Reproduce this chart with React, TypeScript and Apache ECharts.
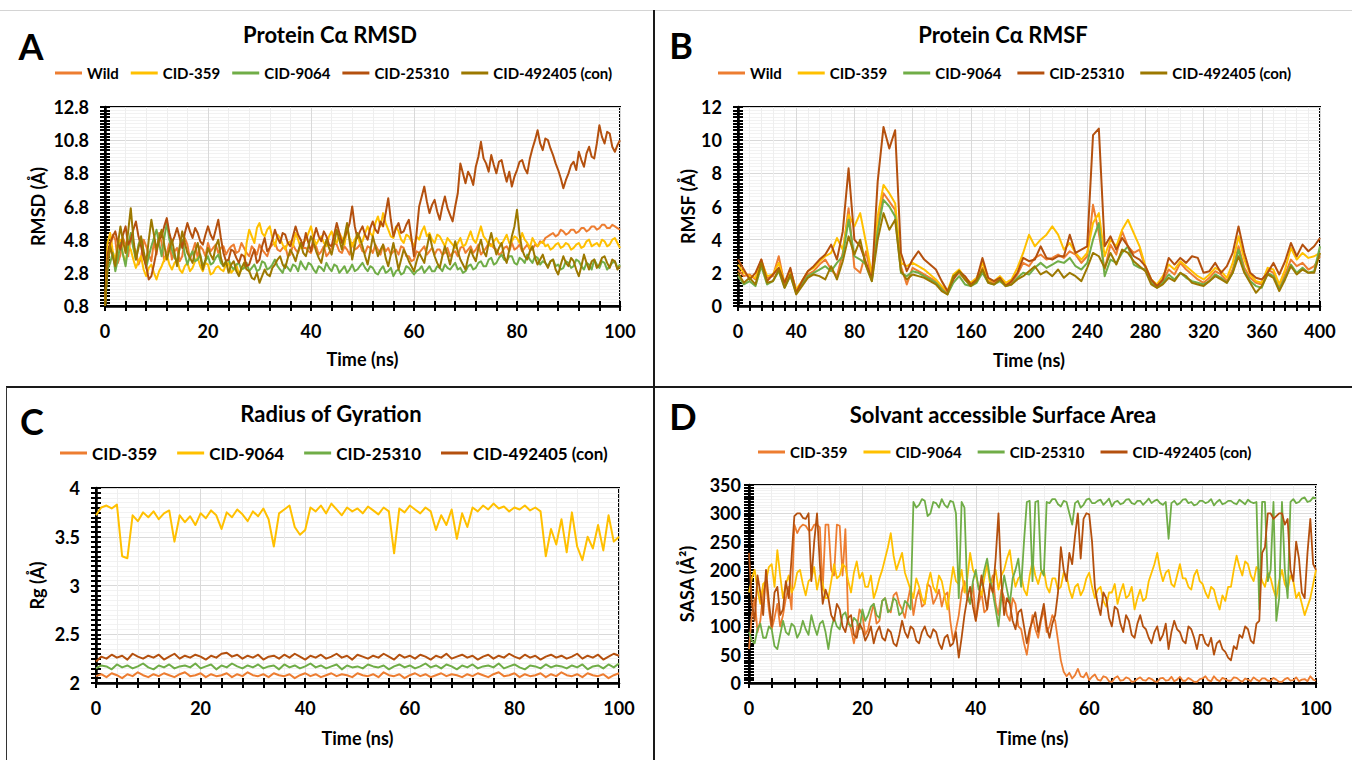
import React, { useEffect, useRef } from "react";
import * as echarts from "echarts";

const FONT = "Lato, 'Open Sans', 'DejaVu Sans', sans-serif";

// ---------- colours ----------
const C_ORANGE = "#ED7D31";
const C_GOLD = "#FFC000";
const C_GREEN = "#70AD47";
const C_BROWN = "#B4500E";
const C_OLIVE = "#9C7800";

// ---------- Panel A : Protein Cα RMSD (Å), time 0..100 ns, 0.5 ns step ----------
const rmsdWild = [
  0.8, 3.6, 4.2, 5.1, 4.8, 3.4, 3.9, 4.9, 4.5, 3.8,
  5.0, 4.4, 4.1, 3.3, 3.7, 4.8, 4.4, 3.9, 3.5, 4.7,
  3.9, 5.2, 4.6, 3.5, 4.0, 4.6, 3.6, 4.1, 4.3, 3.5,
  3.8, 4.9, 4.5, 3.6, 4.1, 4.6, 3.7, 4.4, 4.2, 3.8,
  4.6, 4.1, 4.3, 4.5, 4.0, 4.3, 4.4, 3.9, 4.2, 4.4,
  4.5, 4.0, 4.1, 4.6, 4.3, 4.0, 3.8, 4.4, 4.2, 3.9,
  4.5, 4.2, 4.0, 3.8, 4.3, 4.5, 4.6, 4.2, 4.1, 4.3,
  4.4, 3.8, 3.9, 4.5, 4.2, 4.0, 4.5, 4.3, 4.3, 4.1,
  4.0, 4.5, 4.4, 3.9, 4.1, 4.4, 3.8, 4.0, 4.3, 4.6,
  4.5, 4.1, 4.0, 4.4, 4.2, 3.9, 4.6, 4.2, 4.3, 4.5,
  4.1, 4.0, 4.4, 4.3, 4.0, 4.5, 4.2, 3.9, 4.5, 4.1,
  4.3, 3.9, 4.1, 4.2, 3.9, 4.4, 4.3, 3.8, 3.8, 3.5,
  3.6, 4.1, 4.0, 4.2, 4.4, 3.9, 4.1, 4.3, 3.9, 4.2,
  4.2, 3.9, 4.0, 4.3, 3.8, 4.0, 4.1, 3.8, 4.3, 4.4,
  4.0, 4.2, 4.4, 4.0, 4.2, 4.5, 3.9, 4.1, 4.3, 4.6,
  4.5, 4.3, 4.2, 3.9, 4.0, 4.3, 4.4, 4.1, 4.6, 4.2,
  4.3, 4.5, 4.1, 4.3, 4.5, 4.2, 4.2, 4.5, 4.4, 4.7,
  4.6, 4.9, 5.0, 5.1, 5.2, 5.0, 5.1, 5.4, 5.3, 5.1,
  5.2, 5.4, 5.4, 5.2, 5.3, 5.5, 5.5, 5.3, 5.4, 5.6,
  5.6, 5.4, 5.5, 5.7, 5.7, 5.5, 5.5, 5.7, 5.6, 5.5,
  5.4];
const rmsd359 = [
  0.8, 4.6, 5.2, 4.1, 3.6, 4.4, 4.8, 3.9, 3.4, 4.5,
  4.2, 3.6, 3.1, 3.5, 3.8, 3.0, 2.6, 3.1, 3.3, 2.8,
  2.4, 2.9, 3.2, 3.6, 3.9, 3.3, 3.0, 3.4, 3.6, 3.0,
  2.8, 3.2, 3.4, 2.9, 3.1, 3.5, 3.7, 3.2, 2.9, 3.4,
  3.3, 2.7, 2.8, 3.1, 3.2, 3.0, 2.9, 3.3, 3.4, 2.8,
  3.0, 3.3, 2.7, 3.0, 3.1, 4.6, 5.4, 5.0, 4.6, 5.5,
  5.8, 5.2, 5.0, 5.4, 5.6, 4.9, 4.4, 5.1, 4.9, 4.5,
  4.2, 4.6, 4.7, 4.4, 5.2, 4.8, 4.3, 4.6, 4.8, 5.2,
  5.6, 4.9, 4.5, 4.8, 5.0, 4.6, 4.4, 5.0, 5.3, 4.8,
  4.6, 5.2, 4.9, 4.5, 5.5, 4.9, 4.4, 4.8, 5.1, 4.6,
  4.7, 5.2, 5.6, 5.2, 5.0, 5.8, 6.2, 5.6, 6.4, 5.8,
  5.4, 5.0, 4.9, 5.6, 5.3, 4.8, 4.6, 5.1, 5.0, 4.7,
  4.4, 5.0, 4.8, 5.3, 5.6, 5.0, 5.2, 4.8, 4.6, 5.1,
  5.0, 4.7, 4.4, 4.9, 4.7, 4.5, 4.3, 4.6, 4.9, 4.4,
  4.5, 4.9, 5.3, 4.8, 4.6, 5.1, 5.6, 5.0, 4.8, 4.5,
  4.4, 4.7, 4.9, 4.6, 4.5, 4.8, 5.1, 4.6, 4.7, 5.0,
  4.9, 4.6, 5.2, 4.8, 4.6, 4.3, 4.9, 4.6, 4.4, 4.6,
  4.7, 4.4, 4.5, 4.2, 4.3, 4.5, 4.6, 4.3, 4.4, 4.6,
  4.5, 4.2, 4.3, 4.5, 4.6, 4.3, 4.4, 4.7, 4.8, 4.4,
  4.5, 4.6, 4.4, 4.8, 4.7, 4.4, 4.5, 4.8, 4.9, 4.6,
  4.3];
const rmsd9064 = [
  0.8, 3.0, 3.4, 4.0, 2.9, 3.6, 4.6, 3.9, 3.2, 4.4,
  5.2, 4.3, 3.6, 4.5, 4.9, 4.0, 3.1, 3.8, 4.4, 4.9,
  5.4, 4.6, 3.8, 4.9, 5.8, 4.8, 4.2, 3.7, 3.5, 4.3,
  4.8, 3.9, 3.3, 3.8, 4.1, 3.5, 3.6, 3.9, 3.2, 3.5,
  3.8, 3.3, 3.4, 3.7, 3.9, 3.4, 3.2, 3.5, 3.6, 3.2,
  3.0, 3.3, 3.4, 3.0, 3.1, 3.4, 2.9, 3.1, 3.3, 2.9,
  3.0, 3.5, 3.4, 3.0, 3.1, 3.3, 3.6, 3.2, 3.0, 2.8,
  3.3, 3.1, 2.9, 3.3, 3.2, 2.9, 3.5, 3.2, 3.0, 3.4,
  3.3, 3.0, 2.8, 3.2, 3.1, 2.9, 3.4, 3.1, 2.9, 3.3,
  3.2, 2.8, 3.0, 3.2, 2.8, 3.0, 3.3, 2.9, 3.0, 3.2,
  3.4, 3.1, 2.9, 3.2, 3.1, 2.8, 2.7, 3.0, 3.2, 2.8,
  2.9, 3.1, 2.6, 2.9, 3.0, 2.7, 2.8, 3.2, 3.1, 2.9,
  2.7, 2.9, 3.0, 3.2, 2.8, 3.0, 3.2, 2.9, 2.9, 3.2,
  3.1, 2.9, 3.3, 3.1, 3.0, 3.2, 3.4, 3.0, 3.1, 2.8,
  2.9, 3.2, 3.3, 3.0, 3.1, 3.4, 3.5, 3.2, 3.2, 3.6,
  3.7, 3.3, 3.4, 3.7, 3.9, 3.6, 3.5, 3.8, 3.8, 3.4,
  3.3, 3.7, 3.6, 3.4, 3.9, 3.6, 3.4, 3.8, 3.7, 3.3,
  3.5, 3.4, 3.2, 3.5, 3.6, 3.2, 3.3, 3.0, 3.1, 3.5,
  3.4, 3.1, 3.2, 3.6, 3.5, 3.2, 3.0, 3.4, 3.3, 3.0,
  3.6, 3.3, 3.1, 3.5, 3.4, 3.0, 3.2, 3.4, 3.5, 3.1,
  3.3];
const rmsd25310 = [
  0.8, 3.9, 4.6, 5.0, 5.3, 4.6, 4.2, 5.1, 5.6, 4.5,
  4.8, 5.4, 5.9, 5.0, 4.4, 3.7, 3.2, 2.4, 2.6, 3.3,
  4.1, 4.8, 5.0, 5.6, 6.1, 5.2, 4.6, 5.0, 5.5, 4.9,
  4.3, 5.2, 5.8, 5.3, 4.9, 5.5, 5.2, 4.7, 4.5, 5.1,
  5.6, 5.1, 4.8, 5.4, 6.0, 4.9, 4.0, 3.5, 3.6, 4.2,
  4.1, 3.7, 3.4, 3.9, 3.8, 3.2, 3.3, 3.8, 4.2, 3.4,
  3.6, 4.4, 4.9, 4.1, 4.3, 4.8, 5.4, 4.9, 4.6, 5.2,
  5.1, 4.6, 4.4, 5.0, 5.6, 5.1, 4.8, 4.4, 5.2, 4.6,
  4.1, 4.9, 5.5, 5.0, 4.7, 5.3, 5.0, 4.5, 4.4, 5.1,
  5.8, 5.2, 4.6, 4.9, 5.3, 5.8, 6.8, 5.6, 4.9, 5.3,
  5.6, 5.1, 4.8, 5.5, 5.9, 5.4, 5.2, 5.9, 5.6, 6.4,
  7.3, 6.0, 5.0, 5.5, 5.8, 5.2, 5.3, 5.7, 6.0, 4.9,
  3.8, 5.2, 6.8, 7.4, 8.0, 7.1, 6.4, 6.9, 7.2, 6.5,
  6.0, 6.8, 7.4, 6.7, 6.3, 5.9, 6.8, 7.6, 9.4, 8.8,
  8.2, 8.9, 8.6, 8.1, 9.2, 9.8, 10.7, 9.7, 9.4, 8.9,
  9.9, 9.3, 8.8, 9.5, 9.6, 8.9, 8.3, 8.9, 8.0, 8.6,
  9.0, 9.5, 9.6, 9.1, 8.8, 9.7, 10.3, 10.8, 11.4, 10.6,
  10.2, 10.9, 10.8, 10.3, 9.9, 9.4, 9.0, 8.5, 7.9, 8.4,
  8.8, 9.3, 9.5, 9.0, 10.1, 9.6, 9.2, 10.0, 10.4, 9.8,
  9.7, 10.6, 11.7, 11.0, 10.6, 11.3, 11.2, 10.4, 10.1, 10.5,
  10.8];
const rmsd492405 = [
  0.8, 3.2, 4.4, 3.8, 3.2, 4.5, 5.6, 4.7, 4.0, 5.3,
  6.7, 4.9, 3.6, 4.3, 5.0, 4.1, 3.4, 4.8, 6.0, 5.1,
  4.2, 4.9, 5.4, 4.5, 3.6, 4.2, 4.8, 4.0, 3.2, 4.4,
  5.3, 4.6, 4.0, 3.7, 3.4, 4.1, 4.6, 3.8, 3.0, 3.6,
  4.3, 3.9, 3.6, 4.4, 4.8, 3.7, 3.2, 3.5, 2.8, 3.3,
  3.5, 2.9, 2.6, 3.1, 3.4, 3.0, 2.9, 2.5, 2.4, 2.8,
  2.2, 2.6, 3.0, 2.7, 2.6, 3.1, 3.3, 3.6, 3.8, 3.3,
  3.1, 3.7, 4.2, 3.9, 3.5, 4.1, 4.6, 4.0, 3.8, 4.4,
  5.0, 4.6, 4.1, 3.7, 3.4, 4.2, 4.8, 4.3, 3.9, 4.6,
  5.4, 4.8, 4.2, 5.0, 5.8, 4.7, 3.6, 4.4, 5.2, 4.9,
  4.4, 3.8, 3.3, 4.1, 5.0, 4.4, 3.8, 4.2, 4.5, 3.7,
  3.2, 3.9, 4.6, 3.8, 3.0, 3.6, 4.2, 3.9, 3.5, 3.2,
  2.9, 3.5, 4.0, 3.7, 3.4, 4.3, 5.1, 4.4, 3.8, 3.4,
  3.1, 3.8, 4.4, 3.9, 3.3, 4.0, 4.7, 4.1, 3.6, 3.3,
  3.0, 3.7, 4.2, 3.8, 3.5, 4.3, 4.8, 4.1, 3.8, 4.6,
  5.2, 4.5, 3.9, 4.3, 4.6, 3.8, 3.4, 4.2, 5.0, 5.6,
  6.6, 5.1, 4.2, 3.8, 3.6, 4.1, 4.4, 3.7, 3.3, 3.6,
  3.9, 3.4, 3.1, 3.5, 3.6, 3.0, 2.7, 3.3, 3.8, 3.4,
  3.2, 3.7, 3.5, 3.0, 2.6, 3.2, 3.9, 3.4, 3.0, 3.5,
  3.6, 3.1, 3.3, 3.7, 3.8, 3.4, 3.1, 3.6, 3.5, 3.0,
  3.2];

// ---------- Panel B : Protein Cα RMSF (Å), 0..400, step 4 ----------
const rmsfWild = [
  2.2, 1.8, 1.9, 1.6, 2.8, 1.7, 1.8, 3.0, 1.3, 2.2,
  0.9, 1.4, 1.9, 2.1, 2.5, 2.8, 2.2, 1.8, 3.2, 5.9,
  2.3, 2.0, 3.3, 1.6, 4.8, 6.8, 6.3, 5.8, 2.4, 1.3,
  2.3, 2.1, 1.9, 1.7, 1.5, 1.1, 0.8, 1.7, 2.0, 1.6,
  1.3, 1.5, 2.3, 1.5, 1.4, 1.6, 1.3, 1.4, 1.9, 2.6,
  2.4, 2.9, 3.1, 2.8, 2.9, 3.1, 2.9, 3.3, 3.1, 2.6,
  3.0, 6.1, 4.4, 2.2, 3.7, 3.1, 4.5, 3.6, 3.2, 3.4,
  2.3, 1.5, 1.2, 1.5, 2.2, 1.9, 2.6, 2.2, 1.9, 1.6,
  1.4, 1.7, 2.1, 1.9, 1.5, 2.2, 3.6, 2.3, 1.7, 1.4,
  1.3, 2.2, 2.0, 1.1, 1.9, 2.8, 2.4, 2.6, 2.2, 2.4,
  3.0];
const rmsf359 = [
  2.5, 2.0, 1.8, 1.7, 2.7, 1.8, 1.9, 2.6, 1.4, 2.1,
  1.0, 1.5, 2.1, 2.3, 2.7, 3.0, 3.2, 4.1, 3.4, 5.5,
  4.8, 5.6, 3.8, 1.9, 5.4, 7.3, 6.8, 6.2, 2.6, 2.4,
  2.6, 2.4, 2.2, 1.9, 1.6, 1.2, 0.9, 1.9, 2.2, 1.7,
  1.4, 1.7, 2.6, 1.6, 1.5, 1.8, 1.4, 1.6, 2.3, 3.2,
  4.3, 3.6, 4.0, 4.3, 4.8, 4.3, 3.4, 3.8, 3.2, 2.8,
  3.2, 5.0, 5.6, 3.0, 4.0, 3.6, 4.6, 5.2, 4.4, 3.6,
  2.4, 1.6, 1.3, 1.8, 2.5, 2.2, 2.7, 2.4, 2.1, 1.8,
  1.6, 1.9, 2.3, 2.1, 1.7, 2.6, 4.2, 2.8, 1.9, 1.5,
  1.4, 2.3, 2.2, 1.3, 2.2, 3.5, 2.8, 3.2, 2.9, 3.0,
  3.2];
const rmsf9064 = [
  1.8, 1.3, 1.5, 1.2, 2.4, 1.3, 1.5, 2.1, 1.1, 1.8,
  0.8, 1.3, 1.8, 2.0, 2.2, 2.4, 2.1, 2.6, 3.0, 5.2,
  3.0, 2.8, 2.5, 1.5, 4.5, 6.4, 6.0, 5.4, 2.0, 1.8,
  2.1, 2.0, 1.8, 1.6, 1.4, 1.0, 0.7, 1.4, 1.8, 1.3,
  1.2, 1.4, 2.0, 1.4, 1.3, 1.5, 1.2, 1.3, 1.7, 2.0,
  1.9, 2.3, 2.6, 2.3, 2.5, 2.7, 2.6, 2.9, 2.4, 2.2,
  2.6, 4.0, 5.0, 1.8, 2.8, 2.6, 3.2, 3.6, 2.5, 2.3,
  2.2, 1.4, 1.1, 1.4, 1.9, 1.6, 2.0, 1.7, 1.5, 1.4,
  1.3, 1.5, 1.9, 1.7, 1.4, 2.0, 3.4, 2.1, 1.5, 1.2,
  1.1, 2.0, 1.8, 1.0, 1.7, 2.5, 2.0, 2.3, 2.0, 2.1,
  3.6];
const rmsf25310 = [
  2.8, 2.2, 1.6, 2.0, 2.8, 1.5, 1.9, 2.3, 1.4, 2.3,
  0.8, 1.5, 2.1, 2.4, 2.8, 3.1, 3.7, 2.8, 4.5, 8.3,
  4.0, 3.6, 2.6, 1.6, 7.5, 10.8, 9.5, 10.6, 3.2, 2.1,
  2.8, 3.3, 2.8, 2.5, 2.2, 1.5, 0.9, 1.6, 2.1, 1.8,
  1.3, 1.6, 2.9, 1.7, 1.5, 1.7, 1.2, 1.5, 2.0, 2.9,
  2.7, 2.8, 3.6, 2.9, 2.8, 3.0, 3.0, 4.3, 3.2, 3.4,
  3.6, 10.3, 10.7, 3.6, 4.2, 3.4, 4.1, 3.6, 3.0, 2.8,
  2.4, 1.6, 1.2, 1.6, 2.9, 2.5, 2.9, 2.6, 3.0, 2.9,
  2.0, 2.1, 2.6, 2.0, 2.4, 3.2, 4.8, 3.2, 2.0, 1.7,
  1.6, 2.0, 2.6, 1.9, 2.7, 3.8, 3.0, 3.7, 3.3, 3.6,
  4.1];
const rmsf492405 = [
  2.0, 1.4, 1.7, 1.3, 2.6, 1.4, 1.5, 2.2, 1.1, 1.9,
  0.7, 1.2, 1.7, 1.9, 1.8, 1.6, 2.4, 1.6, 2.7, 4.2,
  3.1, 4.0, 2.4, 1.5, 4.0, 5.6, 4.6, 5.2, 2.1, 1.6,
  1.9, 1.8, 1.7, 1.5, 1.3, 0.9, 0.7, 1.8, 2.1, 1.6,
  1.2, 1.5, 2.2, 1.4, 1.3, 1.6, 1.2, 1.3, 1.6, 1.8,
  2.1, 2.4, 1.9, 2.1, 1.8, 2.2, 1.7, 2.0, 1.8, 1.5,
  2.3, 3.2, 3.0, 2.3, 3.2, 2.5, 3.4, 3.2, 2.7, 2.4,
  2.1, 1.3, 1.1, 1.3, 1.7, 1.5, 2.0, 1.8, 1.4, 1.3,
  1.2, 1.5, 1.8, 1.6, 1.4, 2.0, 3.0, 2.0, 1.4, 0.8,
  1.2, 1.9, 1.7, 0.9, 1.6, 2.4, 1.9, 2.2, 2.0, 2.0,
  3.2];

// ---------- Panel C : Radius of Gyration (Å), 0..100 ns, 1 ns step ----------
const rg359 = [2.07,
  2.09, 2.06, 2.10, 2.08, 2.05, 2.09, 2.07, 2.11, 2.08, 2.06,
  2.09, 2.07, 2.10, 2.08, 2.06, 2.09, 2.11, 2.07, 2.08, 2.10,
  2.06, 2.09, 2.07, 2.08, 2.10, 2.06, 2.09, 2.07, 2.11, 2.08,
  2.07, 2.09, 2.06, 2.10, 2.08, 2.07, 2.09, 2.05, 2.08, 2.10,
  2.07, 2.09, 2.06, 2.08, 2.10, 2.07, 2.09, 2.08, 2.06, 2.10,
  2.08, 2.07, 2.09, 2.06, 2.11, 2.08, 2.07, 2.09, 2.05, 2.08,
  2.10, 2.07, 2.09, 2.06, 2.08, 2.10, 2.07, 2.09, 2.08, 2.06,
  2.09, 2.07, 2.10, 2.08, 2.06, 2.09, 2.11, 2.07, 2.08, 2.10,
  2.06, 2.09, 2.07, 2.08, 2.10, 2.06, 2.09, 2.07, 2.11, 2.08,
  2.07, 2.09, 2.06, 2.10, 2.08, 2.07, 2.09, 2.05, 2.08, 2.10];
const rg9064 = [3.72,
  3.80, 3.82, 3.79, 3.83, 3.30, 3.28, 3.72, 3.66, 3.75, 3.70,
  3.76, 3.68, 3.74, 3.77, 3.45, 3.72, 3.65, 3.71, 3.62, 3.74,
  3.69, 3.77, 3.72, 3.58, 3.75, 3.70, 3.78, 3.73, 3.66, 3.76,
  3.71, 3.79, 3.68, 3.40, 3.74, 3.78, 3.82, 3.60, 3.52, 3.57,
  3.80, 3.76, 3.82, 3.74, 3.84, 3.78, 3.72, 3.80, 3.76, 3.79,
  3.74, 3.81, 3.77, 3.73, 3.80, 3.76, 3.33, 3.79, 3.75, 3.82,
  3.78, 3.74, 3.80, 3.76, 3.57, 3.72, 3.62, 3.78, 3.48, 3.74,
  3.60, 3.80, 3.76, 3.82, 3.78, 3.84, 3.79, 3.81, 3.76, 3.80,
  3.78, 3.82, 3.77, 3.80, 3.76, 3.30, 3.58, 3.42, 3.68, 3.34,
  3.75, 3.40, 3.26, 3.50, 3.38, 3.62, 3.36, 3.72, 3.45, 3.50];
const rg25310 = [2.15,
  2.18, 2.17, 2.14, 2.19, 2.16, 2.18, 2.15, 2.17, 2.20, 2.16,
  2.14, 2.18, 2.16, 2.19, 2.15, 2.17, 2.18, 2.16, 2.20, 2.15,
  2.17, 2.19, 2.14, 2.18, 2.16, 2.20, 2.17, 2.15, 2.18, 2.16,
  2.19, 2.15, 2.17, 2.18, 2.14, 2.19, 2.16, 2.18, 2.15, 2.17,
  2.20, 2.16, 2.18, 2.15, 2.17, 2.19, 2.14, 2.18, 2.16, 2.17,
  2.15, 2.19, 2.17, 2.16, 2.18, 2.14, 2.17, 2.19, 2.16, 2.18,
  2.15, 2.17, 2.20, 2.16, 2.18, 2.15, 2.19, 2.17, 2.14, 2.18,
  2.16, 2.19, 2.15, 2.17, 2.18, 2.16, 2.20, 2.15, 2.17, 2.19,
  2.16, 2.14, 2.18, 2.17, 2.15, 2.19, 2.16, 2.18, 2.17, 2.15,
  2.18, 2.16, 2.19, 2.14, 2.17, 2.18, 2.15, 2.19, 2.16, 2.20];
const rg492405 = [2.22,
  2.27, 2.25, 2.29, 2.26, 2.28, 2.24, 2.30, 2.27, 2.25, 2.28,
  2.26, 2.29, 2.24, 2.27, 2.30, 2.25, 2.28, 2.26, 2.29, 2.27,
  2.24, 2.28, 2.26, 2.30, 2.31, 2.27, 2.29, 2.25, 2.28, 2.26,
  2.29, 2.24, 2.27, 2.28, 2.25, 2.29, 2.26, 2.30, 2.27, 2.24,
  2.28, 2.26, 2.29, 2.25, 2.27, 2.30, 2.26, 2.28, 2.24, 2.29,
  2.27, 2.25, 2.28, 2.26, 2.30, 2.27, 2.24, 2.29, 2.26, 2.28,
  2.25, 2.29, 2.27, 2.24, 2.28, 2.26, 2.30, 2.25, 2.27, 2.29,
  2.26, 2.28, 2.24, 2.27, 2.29, 2.25, 2.28, 2.26, 2.30, 2.27,
  2.25, 2.29, 2.26, 2.28, 2.24, 2.27, 2.29, 2.26, 2.28, 2.25,
  2.27, 2.30, 2.25, 2.28, 2.26, 2.29, 2.24, 2.27, 2.30, 2.28];

// ---------- Panel D : SASA (Å²), 0..100 ns, 0.5 ns step ----------
const sasa359 = [
  60, 120, 150, 90, 110, 160, 180, 130, 95, 115,
  140, 100, 120, 150, 170, 130, 280, 265, 275, 280,
  278, 270, 270, 280, 280, 275, 165, 280, 280, 200,
  190, 280, 278, 190, 272, 110, 95, 70, 95, 130,
  120, 85, 95, 120, 140, 105, 110, 145, 150, 130,
  125, 155, 160, 140, 130, 115, 145, 170, 120, 150,
  165, 135, 140, 175, 170, 140, 150, 165, 135, 155,
  160, 110, 75, 95, 120, 160, 180, 150, 140, 175,
  110, 140, 160, 125, 130, 170, 190, 140, 120, 165,
  150, 120, 110, 150, 140, 100, 95, 70, 50, 85,
  120, 95, 80, 110, 130, 90, 100, 120, 110, 75,
  40, 20, 12, 18, 8, 14, 25, 12, 10, 18,
  5, 11, 15, 6, 4, 12, 10, 3, 2, 9,
  12, 4, 5, 10, 8, 2, 3, 7, 10, 5,
  4, 9, 7, 3, 2, 8, 9, 4, 5, 11,
  3, 6, 11, 4, 4, 9, 6, 2, 2, 7,
  8, 12, 5, 3, 12, 6, 3, 9, 7, 4,
  4, 10, 9, 5, 2, 8, 6, 3, 10, 6,
  3, 8, 8, 4, 4, 9, 6, 2, 2, 7,
  9, 4, 5, 10, 3, 6, 7, 3, 12, 6,
  4];
const sasa9064 = [
  160, 185, 200, 165, 140, 175, 180, 205, 210, 170,
  235, 190, 150, 175, 190, 160, 170, 195, 200, 175,
  155, 180, 185, 205, 165, 190, 175, 150, 150, 180,
  210, 185, 190, 210, 205, 180, 160, 195, 215, 185,
  195, 170, 170, 190, 150, 165, 185, 200, 220, 240,
  265, 225, 200, 215, 230, 195, 180, 165, 150, 185,
  170, 150, 140, 175, 195, 170, 160, 190, 180, 155,
  130, 170, 205, 180, 175, 200, 160, 185, 230, 200,
  190, 170, 155, 185, 210, 175, 180, 200, 165, 190,
  200, 220, 235, 195, 170, 185, 190, 165, 155, 190,
  215, 190, 175, 195, 200, 170, 160, 185, 185, 165,
  170, 195, 190, 165, 150, 170, 175, 155, 165, 185,
  195, 170, 150, 165, 170, 145, 135, 160, 160, 175,
  140, 160, 175, 150, 155, 170, 130, 150, 165, 145,
  150, 180, 195, 210, 230, 200, 180, 195, 200, 175,
  170, 190, 210, 185, 185, 170, 165, 190, 200, 180,
  175, 160, 150, 170, 165, 145, 130, 155, 145, 170,
  170, 200, 225, 205, 190, 215, 210, 190, 180, 205,
  200, 180, 170, 195, 185, 165, 150, 180, 200, 175,
  165, 190, 180, 150, 160, 140, 120, 135, 150, 175,
  200];
const sasa25310 = [
  90, 75, 70, 95, 105, 80, 80, 100, 95, 65,
  60, 85, 110, 90, 85, 105, 100, 80, 90, 110,
  95, 85, 120, 100, 85, 105, 110, 90, 60, 95,
  115, 100, 95, 120, 125, 105, 100, 115, 110, 95,
  130, 110, 120, 135, 140, 120, 115, 145, 150, 125,
  130, 150, 145, 120, 125, 145, 140, 130, 320, 310,
  315, 325, 322, 295, 300, 320, 318, 310, 325, 315,
  310, 322, 320, 300, 150, 320, 310, 160, 140, 180,
  200, 165, 175, 200, 220, 185, 160, 130, 100, 150,
  190, 165, 140, 185, 200, 220, 170, 250, 320, 322,
  180, 320, 322, 200, 190, 320, 318, 325, 325, 316,
  312, 322, 320, 300, 280, 318, 322, 310, 315, 324,
  326, 318, 318, 322, 324, 315, 320, 326, 312, 320,
  322, 316, 318, 324, 325, 318, 316, 322, 322, 315,
  320, 326, 318, 322, 324, 318, 315, 320, 255, 318,
  322, 315, 318, 324, 325, 318, 320, 314, 316, 322,
  322, 318, 320, 325, 314, 320, 324, 316, 318, 322,
  322, 318, 316, 324, 320, 316, 324, 320, 318, 320,
  130, 320, 320, 180, 200, 320, 110, 150, 320, 200,
  150, 320, 325, 318, 320, 326, 328, 320, 322, 328,
  326];
const sasa492405 = [
  230, 140, 110, 190, 160, 120, 200, 145, 100, 160,
  170, 120, 130, 180, 150, 220, 295, 300, 300, 292,
  290, 300, 180, 250, 300, 210, 140, 165, 150, 120,
  110, 140, 130, 100, 90, 115, 120, 85, 80, 105,
  95, 75, 85, 100, 70, 90, 100, 80, 75, 95,
  90, 70, 65, 85, 110, 90, 80, 100, 95, 75,
  70, 90, 100, 85, 80, 95, 90, 70, 60, 80,
  85, 65, 70, 90, 45, 80, 120, 150, 170, 135,
  110, 150, 190, 160, 130, 175, 160, 220, 300, 180,
  120, 150, 140, 110, 95, 125, 130, 100, 70, 95,
  110, 125, 90, 115, 140, 100, 80, 105, 120, 160,
  240, 200, 180, 230, 210, 260, 300, 220, 290, 300,
  298, 250, 170, 140, 120, 160, 150, 115, 100, 135,
  130, 105, 90, 120, 110, 85, 80, 105, 120, 100,
  95, 80, 70, 90, 100, 75, 85, 105, 60, 90,
  110, 95, 90, 75, 70, 100, 95, 80, 60, 85,
  85, 70, 65, 80, 50, 70, 75, 60, 55, 45,
  40, 65, 60, 85, 80, 100, 95, 75, 70, 105,
  110, 230, 240, 300, 300, 290, 295, 300, 300, 280,
  290, 200, 180, 250, 220, 160, 150, 230, 290, 210,
  200];

type SeriesDef = { name: string; color: string; data: number[] };

type PanelDef = {
  letter: string; letterX: number; letterY: number;
  title: string; titleX: number; titleY: number;
  legendLeft: number; legendCenterY: number; legendGap: number; legendFont: number;
  grid: { left: number; top: number; width: number; height: number };
  xMax: number; xInterval: number; xMinor: number; xNameGap: number;
  yMin: number; yMax: number; yInterval: number; yMinor: number;
  yName: string; yNameGap: number; yLabelMargin: number; lineWidth: number;
  series: SeriesDef[];
};

const panels: PanelDef[] = [
  {
    letter: "A", letterX: 31, letterY: 46,
    title: "Protein Cα RMSD", titleX: 330, titleY: 35,
    legendLeft: 55, legendCenterY: 73, legendGap: 12, legendFont: 15,
    grid: { left: 105, top: 107, width: 515, height: 199 },
    xMax: 100, xInterval: 20, xMinor: 5, xNameGap: 44,
    yMin: 0.8, yMax: 12.8, yInterval: 2, yMinor: 10,
    yName: "RMSD (Å)", yNameGap: 58, yLabelMargin: 16, lineWidth: 2,
    series: [
      { name: "Wild", color: C_ORANGE, data: rmsdWild },
      { name: "CID-359", color: C_GOLD, data: rmsd359 },
      { name: "CID-9064", color: C_GREEN, data: rmsd9064 },
      { name: "CID-25310", color: C_BROWN, data: rmsd25310 },
      { name: "CID-492405 (con)", color: C_OLIVE, data: rmsd492405 },
    ],
  },
  {
    letter: "B", letterX: 681, letterY: 45,
    title: "Protein Cα RMSF", titleX: 1003, titleY: 35,
    legendLeft: 718, legendCenterY: 73, legendGap: 16, legendFont: 15,
    grid: { left: 738, top: 107, width: 582, height: 199 },
    xMax: 400, xInterval: 40, xMinor: 5, xNameGap: 45,
    yMin: 0, yMax: 12, yInterval: 2, yMinor: 10,
    yName: "RMSF (Å)", yNameGap: 41, yLabelMargin: 16, lineWidth: 2,
    series: [
      { name: "Wild", color: C_ORANGE, data: rmsfWild },
      { name: "CID-359", color: C_GOLD, data: rmsf359 },
      { name: "CID-9064", color: C_GREEN, data: rmsf9064 },
      { name: "CID-25310", color: C_BROWN, data: rmsf25310 },
      { name: "CID-492405 (con)", color: C_OLIVE, data: rmsf492405 },
    ],
  },
  {
    letter: "C", letterX: 32, letterY: 421,
    title: "Radius of Gyration", titleX: 331, titleY: 414,
    legendLeft: 60, legendCenterY: 453, legendGap: 20, legendFont: 17,
    grid: { left: 96, top: 488, width: 523, height: 195 },
    xMax: 100, xInterval: 20, xMinor: 5, xNameGap: 46,
    yMin: 2, yMax: 4, yInterval: 0.5, yMinor: 10,
    yName: "Rg (Å)", yNameGap: 50, yLabelMargin: 16, lineWidth: 2,
    series: [
      { name: "CID-359", color: C_ORANGE, data: rg359 },
      { name: "CID-9064", color: C_GOLD, data: rg9064 },
      { name: "CID-25310", color: C_GREEN, data: rg25310 },
      { name: "CID-492405 (con)", color: C_BROWN, data: rg492405 },
    ],
  },
  {
    letter: "D", letterX: 683, letterY: 416,
    title: "Solvant accessible Surface Area", titleX: 1003, titleY: 415,
    legendLeft: 758, legendCenterY: 452, legendGap: 16, legendFont: 15,
    grid: { left: 749, top: 485, width: 567, height: 198 },
    xMax: 100, xInterval: 20, xMinor: 5, xNameGap: 46,
    yMin: 0, yMax: 350, yInterval: 50, yMinor: 10,
    yName: "SASA (Å²)", yNameGap: 53, yLabelMargin: 8, lineWidth: 1.8,
    series: [
      { name: "CID-359", color: C_ORANGE, data: sasa359 },
      { name: "CID-9064", color: C_GOLD, data: sasa9064 },
      { name: "CID-25310", color: C_GREEN, data: sasa25310 },
      { name: "CID-492405 (con)", color: C_BROWN, data: sasa492405 },
    ],
  },
];

function buildOption(p: PanelDef) {
  const txt = { fontFamily: FONT, fontWeight: "bold", color: "#000" };
  const tickLine = { color: "#000", width: 2 };
  const xCommon = { type: "value", gridIndex: 0, min: 0, max: p.xMax, interval: p.xInterval, position: "bottom" };
  const yCommon = { type: "value", gridIndex: 0, min: p.yMin, max: p.yMax, interval: p.yInterval, position: "left" };
  const legendLineH = Math.round(p.legendFont * 1.2);
  return {
    animation: false,
    title: {
      text: p.title, left: p.titleX, top: p.titleY - 12, textAlign: "center", padding: 0,
      textStyle: { ...txt, fontSize: 22 },
    },
    legend: {
      left: p.legendLeft, top: p.legendCenterY - legendLineH / 2, padding: 0,
      icon: "rect", itemWidth: 27, itemHeight: 3,
      itemGap: p.legendGap, selectedMode: false,
      textStyle: { ...txt, fontSize: p.legendFont, lineHeight: legendLineH },
      data: p.series.map((s) => s.name),
    },
    graphic: [
      {
        type: "text", x: p.letterX, y: p.letterY, silent: true,
        style: {
          text: p.letter, fontSize: 36, fontWeight: "bold", fontFamily: FONT, fill: "#000",
          align: "center", verticalAlign: "middle", textAlign: "center", textVerticalAlign: "middle",
        },
      },
    ],
    grid: {
      ...p.grid, show: true, borderColor: "#000", borderWidth: 2, backgroundColor: "transparent",
      containLabel: false,
    },
    xAxis: [
      {
        ...xCommon,
        name: "Time (ns)", nameLocation: "middle", nameGap: p.xNameGap,
        nameTextStyle: { ...txt, fontSize: 18 },
        axisLine: { show: true, onZero: false, lineStyle: { color: "#000", width: 2.5 } },
        axisTick: { show: true, inside: false, length: 5, lineStyle: tickLine },
        minorTick: { show: true, splitNumber: p.xMinor, length: 5, lineStyle: tickLine },
        axisLabel: { ...txt, fontSize: 18, margin: 16 },
        splitLine: { show: true, lineStyle: { color: "#d9d9d9", width: 1 } },
        minorSplitLine: { show: true, lineStyle: { color: "#eeeeee", width: 1 } },
      },
      {
        ...xCommon,
        axisLine: { show: false, onZero: false },
        axisTick: { show: true, inside: true, length: 5, lineStyle: tickLine },
        minorTick: { show: true, splitNumber: p.xMinor, length: 5, lineStyle: tickLine },
        axisLabel: { show: false },
        splitLine: { show: false },
        minorSplitLine: { show: false },
      },
    ],
    yAxis: [
      {
        ...yCommon,
        name: p.yName, nameLocation: "middle", nameGap: p.yNameGap,
        nameTextStyle: { ...txt, fontSize: 18 },
        axisLine: { show: true, onZero: false, lineStyle: { color: "#000", width: 2.5 } },
        axisTick: { show: true, inside: false, length: 5, lineStyle: tickLine },
        minorTick: { show: true, splitNumber: p.yMinor, length: 5, lineStyle: tickLine },
        axisLabel: { ...txt, fontSize: 18, margin: p.yLabelMargin },
        splitLine: { show: true, lineStyle: { color: "#d9d9d9", width: 1 } },
        minorSplitLine: { show: true, lineStyle: { color: "#f2f2f2", width: 1 } },
      },
      {
        ...yCommon,
        axisLine: { show: false, onZero: false },
        axisTick: { show: true, inside: true, length: 5, lineStyle: tickLine },
        minorTick: { show: true, splitNumber: p.yMinor, length: 5, lineStyle: tickLine },
        axisLabel: { show: false },
        splitLine: { show: false },
        minorSplitLine: { show: false },
      },
    ],
    series: p.series.map((s) => {
      const step = p.xMax / (s.data.length - 1);
      return {
        type: "line", name: s.name, xAxisIndex: 0, yAxisIndex: 0,
        data: s.data.map((v, i) => [i * step, v]),
        symbol: "none", showSymbol: false, silent: true,
        color: s.color,
        lineStyle: { width: p.lineWidth, color: s.color, join: "round" },
        itemStyle: { color: s.color },
        emphasis: { disabled: true },
      };
    }),
  };
}

function Panel({ def }: { def: PanelDef }) {
  const ref = useRef<HTMLDivElement>(null);
  useEffect(() => {
    if (!ref.current) return;
    const chart = echarts.init(ref.current, null, { renderer: "svg" });
    chart.setOption(buildOption(def) as any);
    return () => chart.dispose();
  }, [def]);
  return (
    <div
      ref={ref}
      style={{ position: "absolute", left: 0, top: 0, width: 1352, height: 760 }}
    />
  );
}

export default function App() {
  return (
    <div
      style={{
        position: "absolute", left: 0, top: 0, width: 1352, height: 760,
        background: "#fff", overflow: "hidden",
      }}
    >
      {panels.map((p) => (
        <Panel key={p.letter} def={p} />
      ))}
      <div style={{ position: "absolute", left: 0, top: 10, width: 1352, height: 1, background: "#d4d4d4" }} />
      <div style={{ position: "absolute", left: 653, top: 10, width: 2, height: 750, background: "#1a1a1a" }} />
      <div style={{ position: "absolute", left: 6, top: 386, width: 1346, height: 2, background: "#1a1a1a" }} />
      <div style={{ position: "absolute", left: 6, top: 387, width: 1, height: 373, background: "#333" }} />
    </div>
  );
}
